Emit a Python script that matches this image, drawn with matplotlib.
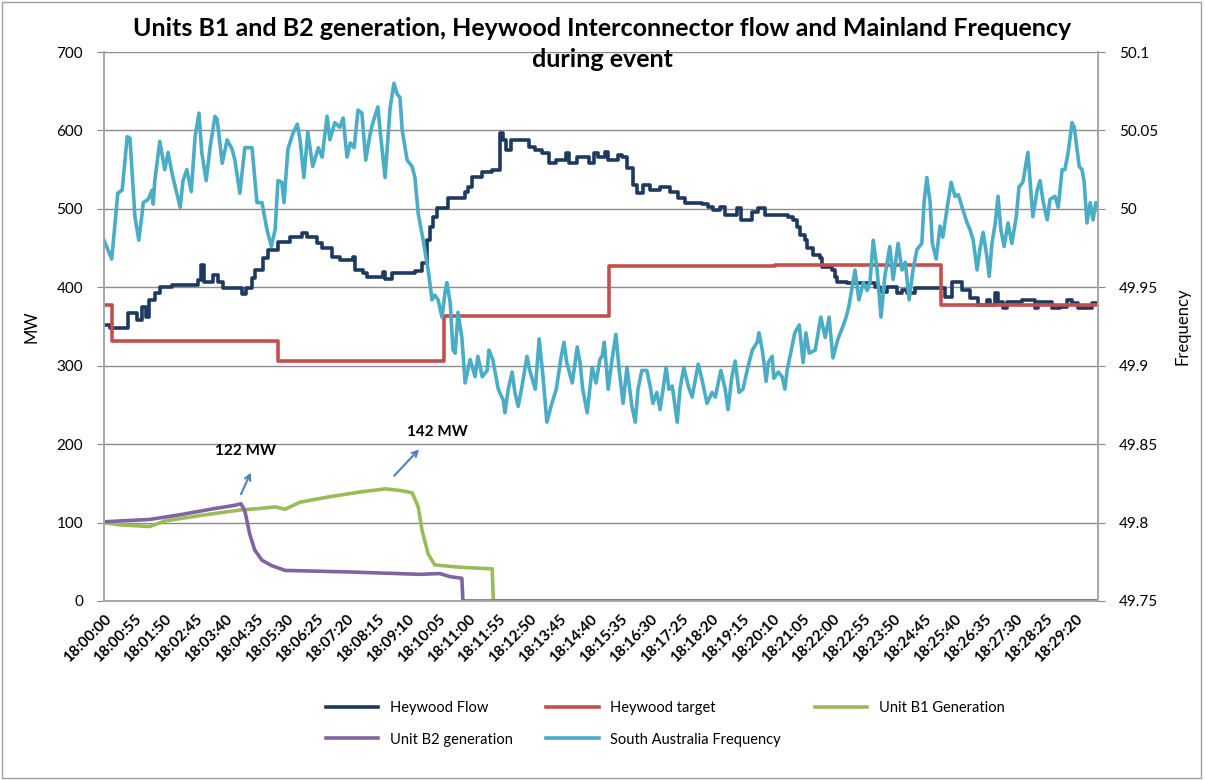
import matplotlib.pyplot as plt
from matplotlib.patches import Rectangle

# seconds after 18:00:00
flow_t = [0, 10, 43, 60, 69, 76, 82, 92, 101, 123, 170, 176, 181, 197, 206, 215, 250, 257,
          268, 273, 288, 297, 315, 337, 359, 368, 386, 395, 413, 427, 451, 455, 469, 476,
          505, 509, 522, 563, 576, 585, 590, 596, 603, 623, 654, 659, 666, 685, 703, 717,
          723, 728, 737, 770, 781, 793, 806, 819, 837, 842, 857, 878, 887, 895, 907, 913,
          931, 938, 947, 958, 965, 976, 989, 1007, 1025, 1040, 1052, 1083, 1094, 1103, 1116,
          1125, 1146, 1154, 1174, 1184, 1197, 1239, 1248, 1255, 1260, 1270, 1273, 1284, 1297,
          1300, 1318, 1324, 1327, 1346, 1396, 1405, 1418, 1436, 1445, 1454, 1469, 1523, 1536,
          1554, 1568, 1583, 1599, 1605, 1614, 1619, 1628, 1635, 1662, 1686, 1691, 1717, 1731,
          1744, 1753, 1764, 1789, 1800]
flow_mw = [352, 348, 367, 358, 375, 362, 384, 393, 400, 403, 409, 429, 407, 416, 407, 399, 392, 399,
           412, 422, 437, 447, 458, 464, 469, 464, 456, 450, 439, 435, 439, 422, 418, 413,
           419, 410, 418, 421, 431, 460, 477, 490, 501, 514, 521, 528, 541, 547, 550, 597,
           588, 575, 588, 579, 575, 571, 558, 562, 571, 558, 566, 558, 571, 566, 572, 562,
           569, 566, 552, 530, 520, 530, 524, 528, 521, 514, 507, 506, 503, 499, 503,
           492, 501, 486, 496, 501, 492, 490, 486, 477, 467, 460, 450, 441, 437,
           426, 422, 413, 407, 405, 400, 394, 400, 393, 397, 393, 399, 388, 407,
           397, 386, 377, 384, 377, 393, 381, 373, 381, 384, 373, 381, 373, 375,
           384, 380, 373, 380, 380]

target_t = [0, 15, 315, 615, 915, 1215, 1515, 1800]
target_mw = [378, 332, 306, 363, 427, 429, 377, 377]

b1_t = [0, 29, 83, 110, 174, 246, 283, 310, 328, 355, 409, 464, 509, 536, 558, 569, 576, 587,
        599, 645, 703, 705, 1800]
b1_mw = [100, 97, 95, 102, 109, 116, 118, 120, 117, 126, 133, 139, 143, 141, 138, 120, 90, 60,
         46, 43, 41, 0, 0]

b2_t = [0, 83, 138, 201, 237, 248, 255, 264, 273, 286, 304, 328, 446, 572, 608, 627, 648, 650, 1800]
b2_mw = [101, 104, 110, 118, 122, 124, 115, 85, 65, 52, 45, 39, 37, 34, 35, 31, 29, 0, 0]

freq_t = [0, 14, 25, 33, 42, 47, 56, 63, 69, 71, 80, 87, 89, 92, 101, 110, 116, 123, 129, 138,
          143, 150, 158, 165, 172, 177, 185, 192, 201, 205, 214, 223, 232, 237, 246, 255, 268,
          277, 286, 295, 303, 310, 315, 322, 326, 333, 342, 350, 355, 362, 369, 378, 388, 395,
          404, 409, 418, 427, 433, 440, 446, 453, 460, 467, 474, 482, 487, 496, 500, 509, 518,
          525, 531, 536, 540, 549, 558, 563, 569, 578, 587, 594, 599, 605, 612, 618, 621, 627,
          632, 636, 641, 648, 654, 663, 672, 677, 685, 694, 697, 704, 714, 723, 726, 732, 739,
          744, 750, 757, 766, 771, 781, 788, 795, 802, 811, 819, 828, 833, 838, 848, 857, 862,
          867, 875, 884, 891, 898, 902, 906, 913, 920, 927, 933, 940, 947, 956, 962, 967, 974,
          983, 989, 994, 1001, 1007, 1018, 1023, 1029, 1038, 1043, 1050, 1058, 1065, 1076, 1083,
          1092, 1101, 1107, 1117, 1125, 1130, 1137, 1143, 1150, 1157, 1166, 1174, 1183, 1186,
          1192, 1195, 1199, 1203, 1210, 1213, 1221, 1228, 1233, 1237, 1244, 1251, 1259, 1266,
          1271, 1277, 1288, 1298, 1306, 1313, 1320, 1329, 1338, 1344, 1349, 1360, 1367, 1375,
          1382, 1387, 1393, 1400, 1407, 1414, 1423, 1429, 1438, 1445, 1451, 1458, 1465, 1472,
          1481, 1485, 1490, 1496, 1500, 1507, 1514, 1519, 1527, 1534, 1541, 1547, 1554, 1563,
          1568, 1574, 1581, 1586, 1592, 1599, 1603, 1608, 1614, 1619, 1624, 1630, 1637, 1644,
          1652, 1657, 1664, 1673, 1677, 1682, 1690, 1695, 1701, 1708, 1713, 1722, 1728, 1735,
          1740, 1746, 1753, 1757, 1762, 1766, 1771, 1775, 1780, 1786, 1791, 1796, 1800]
freq_hz = [49.980, 49.968, 50.010, 50.012, 50.046, 50.045, 49.995, 49.980, 49.997, 50.004, 50.006,
           50.012, 50.003, 50.018, 50.043, 50.025, 50.036, 50.023, 50.014, 50.001,
           50.018, 50.025, 50.011, 50.046, 50.061, 50.036, 50.018, 50.039, 50.059, 50.057,
           50.029, 50.044, 50.038, 50.031, 50.010, 50.039, 50.039,
           50.004, 50.004, 49.987, 49.976, 49.987, 50.018, 50.017, 50.004, 50.038, 50.048,
           50.054, 50.044, 50.020, 50.049, 50.027, 50.039, 50.033,
           50.059, 50.044, 50.055, 50.052, 50.058, 50.033, 50.042, 50.039, 50.063, 50.061,
           50.031, 50.048, 50.055, 50.065, 50.050, 50.020, 50.064,
           50.080, 50.073, 50.071, 50.050, 50.031, 50.027, 50.020, 49.997, 49.980, 49.961,
           49.942, 49.945, 49.942, 49.931, 49.948, 49.953, 49.940,
           49.910, 49.908, 49.934, 49.918, 49.889, 49.904, 49.893, 49.906, 49.893, 49.897,
           49.910, 49.904, 49.885, 49.878, 49.870, 49.885, 49.896,
           49.883, 49.874, 49.887, 49.906, 49.897, 49.885, 49.917, 49.893, 49.864, 49.876,
           49.885, 49.906, 49.915, 49.902, 49.889, 49.912, 49.902,
           49.885, 49.870, 49.899, 49.889, 49.904, 49.906, 49.915, 49.885, 49.904, 49.920,
           49.897, 49.876, 49.899, 49.874, 49.864, 49.885, 49.897,
           49.897, 49.887, 49.876, 49.883, 49.872, 49.899, 49.885, 49.887, 49.864, 49.885,
           49.899, 49.887, 49.880, 49.901, 49.891,
           49.876, 49.883, 49.880, 49.897, 49.885, 49.872, 49.893, 49.903, 49.883, 49.885,
           49.899, 49.910, 49.915, 49.921,
           49.910, 49.902, 49.890, 49.902, 49.906, 49.892, 49.896, 49.893, 49.885, 49.897,
           49.909, 49.921, 49.926, 49.902,
           49.921, 49.908, 49.910, 49.931, 49.918, 49.931, 49.905, 49.917, 49.925, 49.931,
           49.938, 49.961, 49.942, 49.953,
           49.948, 49.953, 49.980, 49.961, 49.931, 49.957, 49.976, 49.955, 49.978, 49.961,
           49.966, 49.942, 49.961, 49.974,
           49.978, 50.004, 50.020, 50.004, 49.978, 49.968, 49.989, 49.982, 50.001, 50.017,
           50.008, 50.009, 50.001, 49.991,
           49.987, 49.980, 49.961, 49.974, 49.985, 49.969, 49.957, 49.978, 49.991, 50.008,
           49.987, 49.976, 49.991, 49.978,
           49.995, 50.014, 50.017, 50.036, 50.018, 49.995, 50.012, 50.018, 50.004, 49.993,
           50.006, 50.008, 50.001, 50.025,
           50.025, 50.036, 50.055, 50.052, 50.038, 50.027, 50.025, 50.017, 49.991, 50.004,
           49.993, 50.004, 49.999]

tick_t = list(range(0, 1761, 55))
tick_labels = ["18:%02d:%02d" % (s // 60, s % 60) for s in tick_t]

plt.rcParams['font.family'] = ['Lato', 'DejaVu Sans']

fig = plt.figure(figsize=(12.05, 7.8), dpi=100)
ax = fig.add_axes([104 / 1205, 1 - 601 / 780, 994 / 1205, 549 / 780])
ax2 = ax.twinx()

lw = 2.6
ax.plot(flow_t, flow_mw, color='#1f3a60', lw=lw, drawstyle='steps-post', label='Heywood Flow')
ax.plot(target_t, target_mw, color='#c0504d', lw=lw, drawstyle='steps-post', label='Heywood target')
ax.plot(b1_t, b1_mw, color='#9bbb59', lw=lw, label='Unit B1 Generation')
ax.plot(b2_t, b2_mw, color='#8064a2', lw=lw, label='Unit B2 generation')
ax2.plot(freq_t, freq_hz, color='#4bacc6', lw=lw, label='South Australia Frequency')

ax.set_xlim(0, 1800)
ax.set_ylim(0, 700)
ax.set_yticks(range(0, 701, 100))
ax2.set_ylim(49.75, 50.1)
ax2.set_yticks([49.75, 49.8, 49.85, 49.9, 49.95, 50.0, 50.05, 50.1])
ax2.set_yticklabels(['49.75', '49.8', '49.85', '49.9', '49.95', '50', '50.05', '50.1'])

ax.set_xticks(tick_t)
ax.set_xticklabels(tick_labels, rotation=45, ha='right', rotation_mode='anchor',
                   fontweight='bold', fontsize=11)
ax.tick_params(axis='x', length=0, pad=8)
ax.tick_params(axis='y', labelsize=11, length=5, color='#868686', pad=10)
ax2.tick_params(axis='y', labelsize=11, length=5, color='#868686', pad=10)

ax.grid(axis='y', color='#8c8c8c', lw=1)
ax.set_axisbelow(True)
for a in (ax, ax2):
    a.spines['top'].set_visible(False)
    for s in ('left', 'right', 'bottom'):
        a.spines[s].set_color('#a6a6a6')
        a.spines[s].set_linewidth(1.2)

ax.set_ylabel('MW', fontsize=12, labelpad=12)
ax2.set_ylabel('Frequency', fontsize=12, labelpad=12)

fig.suptitle('Units B1 and B2 generation, Heywood Interconnector flow and Mainland Frequency\nduring event',
             fontsize=18, fontweight='bold', y=0.978, linespacing=1.4)

ax.annotate('', xy=(268, 167), xytext=(246, 133),
            arrowprops=dict(arrowstyle='->', color='#4f81bd', lw=1.5))
ax.text(257, 191, '122 MW', ha='center', va='center', fontsize=11, fontweight='bold')
ax.annotate('', xy=(574, 196), xytext=(522, 157),
            arrowprops=dict(arrowstyle='->', color='#4f81bd', lw=1.5))
ax.text(603, 215, '142 MW', ha='center', va='center', fontsize=11, fontweight='bold')

h1, l1 = ax.get_legend_handles_labels()
h2, l2 = ax2.get_legend_handles_labels()
hs = [h1[0], h1[3], h1[1], h2[0], h1[2]]
ls = [l1[0], l1[3], l1[1], l2[0], l1[2]]
fig.legend(hs, ls, ncol=3, loc='center', bbox_to_anchor=(0.552, 0.072), frameon=False,
           fontsize=10.5, handlelength=3.6, columnspacing=2.3, labelspacing=1.2)

fig.patches.append(Rectangle((0.002, 0.003), 0.995, 0.994, transform=fig.transFigure,
                             fill=False, edgecolor='#a0a0a0', lw=1))

fig.savefig('out.png', dpi=100)
